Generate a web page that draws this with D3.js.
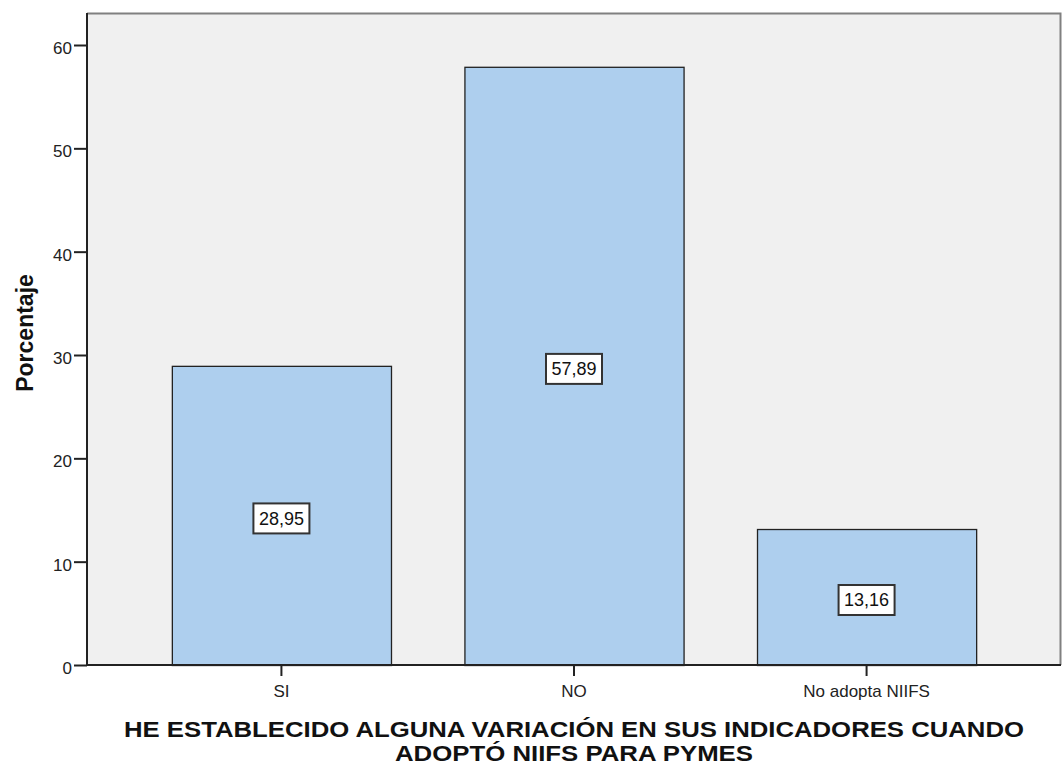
<!DOCTYPE html>
<html><head><meta charset="utf-8">
<script src="https://cdn.jsdelivr.net/npm/d3@7"></script>
<style>body{margin:0;background:#fff}svg{display:block}</style>
</head><body>
<svg id="c" width="1064" height="767"></svg>
<script>
const categories = ["SI", "NO", "No adopta NIIFS"];
const values = [28.95, 57.89, 13.16];
const valueLabels = ["28,95", "57,89", "13,16"];
const yTicks = [0, 10, 20, 30, 40, 50, 60];
const titleLines = ["HE ESTABLECIDO ALGUNA VARIACIÓN EN SUS INDICADORES CUANDO", "ADOPTÓ NIIFS PARA PYMES"];
const yTitle = "Porcentaje";

const svg = d3.select("#c");
const L = 87, R = 1061, T = 13, B = 665;
const font = "'Liberation Sans', Arial, sans-serif";

const x = d3.scaleBand().domain(categories).range([L, R]).paddingInner(0.251).paddingOuter(0.29);
const y = d3.scaleLinear().domain([0, 60]).range([B, 45]);

svg.append("rect").attr("x", L).attr("y", T).attr("width", R - L).attr("height", B - T)
  .attr("fill", "#f0f0f0");
svg.append("path").attr("d", `M${L},${T+0.5}H${R-0.5}V${B}`).attr("fill", "none")
  .attr("stroke", "#808080").attr("stroke-width", 2);

svg.selectAll(".bar").data(values).enter().append("rect")
  .attr("x", (d, i) => x(categories[i]) + 0.5)
  .attr("y", d => y(d) + 0.5)
  .attr("width", x.bandwidth())
  .attr("height", d => B - y(d))
  .attr("fill", "#aecfee").attr("stroke", "#222").attr("stroke-width", 1.3);

const ya = svg.append("g").attr("transform", `translate(${L},0)`)
  .call(d3.axisLeft(y).tickValues(yTicks).tickSize(13).tickPadding(2).tickFormat(d3.format("d")));
const xa = svg.append("g").attr("transform", `translate(0,${B})`)
  .call(d3.axisBottom(x).tickSize(11).tickPadding(9));
[ya, xa].forEach(g => {
  g.select(".domain").attr("stroke", "#222").attr("stroke-width", 2);
  g.selectAll(".tick line").attr("stroke", "#222").attr("stroke-width", 2);
  g.selectAll("text").attr("font-family", font).attr("font-size", 17).attr("fill", "#222");
});
ya.selectAll("text").attr("dy", "0.5em");
xa.selectAll("text").attr("y", 20);
ya.select(".domain").attr("d", `M0,${T}V${B}`);
xa.select(".domain").attr("d", `M${L},0H${R}`);

const lg = svg.selectAll(".lab").data(values).enter().append("g")
  .attr("transform", (d, i) => `translate(${x(categories[i]) + x.bandwidth() / 2},${y(d / 2) + 3})`);
lg.append("rect").attr("x", -28).attr("y", -15).attr("width", 56).attr("height", 30)
  .attr("fill", "#fff").attr("stroke", "#333").attr("stroke-width", 2);
lg.append("text").text((d, i) => valueLabels[i]).attr("text-anchor", "middle").attr("dy", "0.36em")
  .attr("font-family", font).attr("font-size", 18).attr("fill", "#111");

svg.append("text").attr("transform", `translate(33,333) rotate(-90)`)
  .attr("text-anchor", "middle").attr("font-family", font).attr("font-weight", "bold")
  .attr("font-size", 23).attr("fill", "#111").text(yTitle);
const titleWidths = [900, 358];
svg.selectAll(".tt").data(titleLines).enter().append("text")
  .attr("x", (L + R) / 2).attr("y", (d, i) => 737 + i * 24)
  .attr("text-anchor", "middle").attr("font-family", font).attr("font-weight", "bold")
  .attr("font-size", 22).attr("fill", "#111")
  .attr("textLength", (d, i) => titleWidths[i]).attr("lengthAdjust", "spacingAndGlyphs")
  .text(d => d);
</script>
</body></html>
